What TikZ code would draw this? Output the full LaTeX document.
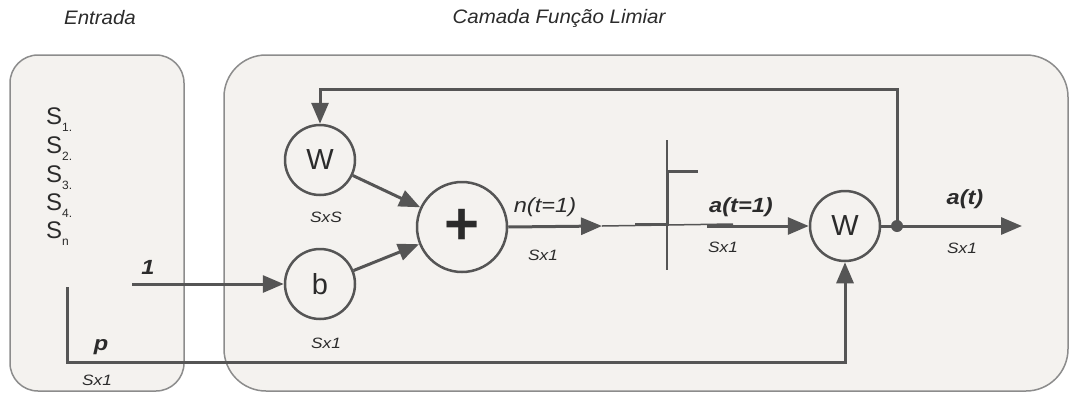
\documentclass[tikz,border=0pt]{standalone}
\usepackage{fontspec}
\setmainfont{Liberation Sans}
\newfontfamily\wf[FakeStretch=1.15]{Liberation Sans}
\newfontfamily\tf[FakeStretch=1.05]{Liberation Sans}
\usetikzlibrary{arrows.meta}
\definecolor{ln}{HTML}{555555}
\definecolor{boxfill}{HTML}{F4F2EF}
\definecolor{boxline}{HTML}{8C8C8C}
\definecolor{txt}{HTML}{2B2B2B}
\newcommand{\ssub}[1]{\raisebox{-7pt}{\fontsize{12}{12}\selectfont #1}}
\begin{document}
\begin{tikzpicture}[x=1pt,y=-1pt,
  boxst/.style={draw=boxline, line width=1.5pt, fill=boxfill},
  circ/.style={circle, draw=ln, line width=2.5pt, fill=boxfill, minimum size=70pt, inner sep=0pt, text=txt, font=\fontsize{29}{29}\selectfont},
  conn/.style={draw=ln, line width=3pt, -{Triangle[length=21pt,width=17pt]}},
  plainln/.style={draw=ln, line width=3pt},
  thin/.style={draw=ln, line width=1.5pt},
  title/.style={text=txt, font=\tf\fontsize{19.5}{19.5}\selectfont\itshape},
  lbl/.style={text=txt, font=\wf\fontsize{20.5}{20.5}\selectfont\itshape},
  blbl/.style={text=txt, font=\wf\fontsize{20.5}{20.5}\selectfont\bfseries\itshape},
  dim/.style={text=txt, font=\wf\fontsize{15}{15}\selectfont\itshape},
  sv/.style={anchor=west, text=txt, font=\fontsize{24}{24}\selectfont, inner sep=0pt}
]
\useasboundingbox (0,0) rectangle (1072,394);
\fill[white] (0,0) rectangle (1072,394);
% boxes
\draw[boxst, rounded corners=28pt] (10,55) rectangle (184,391);
\draw[boxst, rounded corners=42pt] (224,55) rectangle (1068,391);
% titles
\node[title] (t1) at (100,18) {Entrada};
\node[title] (t2) at (559,18) {Camada Função Limiar};
% S list
\node[sv] (s1) at (46,120) {S\ssub{1.}};
\node[sv] (s2) at (46,149) {S\ssub{2.}};
\node[sv] (s3) at (46,178) {S\ssub{3.}};
\node[sv] (s4) at (46,206) {S\ssub{4.}};
\node[sv] (s5) at (46,234) {S\ssub{n}};
% circles
\node[circ] (w1) at (320,160) {W};
\node[circ] (b) at (320,284) {b};
\node[circ, minimum size=90pt, font=\fontsize{60}{60}\selectfont\bfseries] (sum) at (462,227) {+};
\node[circ] (w2) at (845,226) {W};
\node[circle, fill=ln, minimum size=12pt, inner sep=0pt] (dot) at (897,226) {};
% coordinates
\coordinate (one) at (132,284);
\coordinate (pstart) at (67,287);
\coordinate (pcorner) at (67,362);
\coordinate (nend) at (602,226);
\coordinate (astart) at (707,226);
\coordinate (out) at (1022,226);
\coordinate (fbtop) at (897,89);
% threshold symbol
\coordinate (th) at (667,224);
\draw[thin] (nend) -- (733,224);
\draw[thin] (667,140) -- (667,270);
\draw[plainln] (635,224) -- (th) -- (667,171) -- (698,171);
% connectors
\draw[conn] (one) -- (b.west);
\draw[conn] (w1) -- (sum);
\draw[conn] (b) -- (sum);
\draw[conn] (sum.east) -- (nend);
\draw[conn] (astart) -- (w2.west);
\draw[plainln] (w2.east) -- (dot.center);
\draw[conn] (dot.center) -- (out);
\draw[conn] (dot.center) -- (fbtop) -| (w1.north);
\draw[conn] (pstart) -- (pcorner) -| (w2.south);
% labels
\node[blbl] (l1) at (148,267) {1};
\node[blbl] (lp) at (101,347) {p};
\node[dim] (dp) at (97,380) {Sx1};
\node[dim] (dw) at (326,217) {SxS};
\node[dim] (db) at (326,343) {Sx1};
\node[lbl] (ln1) at (545,207) {n(t=1)};
\node[dim] (dn) at (543,255) {Sx1};
\node[blbl] (la1) at (741,207) {a(t=1)};
\node[dim] (da1) at (723,247) {Sx1};
\node[blbl] (la) at (965,199) {a(t)};
\node[dim] (da) at (962,248) {Sx1};
\end{tikzpicture}
\end{document}
